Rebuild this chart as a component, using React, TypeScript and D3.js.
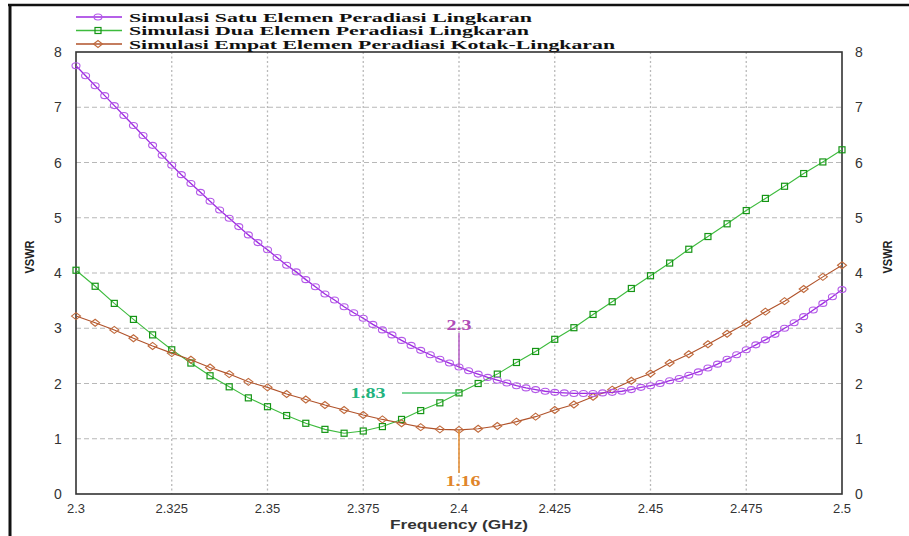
import React from 'react';
import * as d3 from 'd3';

const W = 909;
const H = 536;

const xTicks = [2.3, 2.325, 2.35, 2.375, 2.4, 2.425, 2.45, 2.475, 2.5];
const xTickLabels = ['2.3', '2.325', '2.35', '2.375', '2.4', '2.425', '2.45', '2.475', '2.5'];
const yTicks = [0, 1, 2, 3, 4, 5, 6, 7, 8];

const seriesNames = [
  'Simulasi Satu Elemen Peradiasi Lingkaran',
  'Simulasi Dua Elemen Peradiasi Lingkaran',
  'Simulasi Empat Elemen Peradiasi Kotak-Lingkaran',
];

// sweep grids (GHz)
const satuFreq = d3.range(81).map((i) => +(2.3 + i * 0.0025).toFixed(4));
const duaFreq = d3.range(41).map((i) => +(2.3 + i * 0.005).toFixed(3));
const empatFreq = duaFreq;

const satuVSWR = [
  7.75, 7.57, 7.39, 7.21, 7.03, 6.85, 6.67, 6.49, 6.31, 6.13, 5.95, 5.78, 5.62, 5.46, 5.3, 5.14, 4.99, 4.84, 4.69, 4.55, 4.42,
  4.28, 4.14, 4.02, 3.88, 3.75, 3.62, 3.51, 3.39, 3.28, 3.18, 3.07, 2.97, 2.88, 2.78, 2.69, 2.6, 2.52, 2.44, 2.37, 2.3,
  2.23, 2.17, 2.11, 2.06, 2.01, 1.96, 1.92, 1.89, 1.86, 1.84, 1.83, 1.82, 1.82, 1.82, 1.83, 1.84, 1.86, 1.89,
  1.93, 1.96, 2.0, 2.05, 2.09, 2.15, 2.21, 2.28, 2.35, 2.44, 2.52, 2.61, 2.7, 2.79, 2.89, 3.0, 3.1, 3.21, 3.33, 3.45, 3.57, 3.7,
];

const duaVSWR = [
  4.05, 3.76, 3.45, 3.16, 2.88, 2.61, 2.37, 2.14, 1.94, 1.74, 1.58,
  1.42, 1.28, 1.17, 1.1, 1.14, 1.22, 1.35, 1.51, 1.65,
  1.83, 2.0, 2.17, 2.38, 2.58, 2.8, 3.01, 3.25, 3.48, 3.72,
  3.95, 4.18, 4.43, 4.66, 4.89, 5.13, 5.35, 5.57, 5.8, 6.01, 6.23,
];

const empatVSWR = [
  3.22, 3.1, 2.97, 2.82, 2.68, 2.55, 2.43, 2.29, 2.17, 2.03, 1.93,
  1.81, 1.71, 1.61, 1.52, 1.43, 1.35, 1.28, 1.21, 1.17, 1.16,
  1.18, 1.23, 1.31, 1.4, 1.52, 1.62, 1.76, 1.89, 2.05,
  2.18, 2.37, 2.53, 2.71, 2.9, 3.09, 3.3, 3.49, 3.71, 3.93, 4.14,
];

const markerFreq = 2.4;
const satuMark = 2.3;
const duaMark = 1.83;
const empatMark = 1.16;

const PURPLE_LINE = '#9d2be0';
const PURPLE_MK = '#b45ae8';
const GREEN_LINE = '#3dbb3d';
const GREEN_MK = '#159515';
const BROWN_LINE = '#b0522a';
const BROWN_MK = '#c06a3c';

const serif = "'Liberation Serif', 'Times New Roman', serif";
const sans = "'Liberation Sans', Arial, sans-serif";

export default function App() {
  const x = d3.scaleLinear().domain([2.3, 2.5]).range([76, 842]);
  const y = d3.scaleLinear().domain([0, 8]).range([494, 52]);

  const line = d3
    .line<[number, number]>()
    .x((d) => x(d[0]))
    .y((d) => y(d[1]));

  const satu: [number, number][] = satuFreq.map((f, i) => [f, satuVSWR[i]]);
  const dua: [number, number][] = duaFreq.map((f, i) => [f, duaVSWR[i]]);
  const empat: [number, number][] = empatFreq.map((f, i) => [f, empatVSWR[i]]);

  const circle = (cx: number, cy: number, key: any, color = PURPLE_MK) => (
    <ellipse key={key} cx={cx} cy={cy} rx={4} ry={3} fill="none" stroke={color} strokeWidth={1.1} />
  );
  const square = (cx: number, cy: number, key: any) => (
    <rect key={key} x={cx - 3} y={cy - 3} width={6} height={6} fill="none" stroke={GREEN_MK} strokeWidth={1.2} />
  );
  const diamond = (cx: number, cy: number, key: any) => (
    <path
      key={key}
      d={`M${cx - 4.5},${cy} L${cx},${cy - 3.5} L${cx + 4.5},${cy} L${cx},${cy + 3.5} Z`}
      fill="none"
      stroke={BROWN_MK}
      strokeWidth={1.1}
    />
  );

  const legendRows = [
    { name: seriesNames[0], color: PURPLE_LINE, mk: 'c', y: 17, len: 403 },
    { name: seriesNames[1], color: GREEN_LINE, mk: 's', y: 30.5, len: 400 },
    { name: seriesNames[2], color: BROWN_LINE, mk: 'd', y: 44, len: 486 },
  ];

  const xm = x(markerFreq);

  return (
    <svg
      width={W}
      height={H}
      viewBox={`0 0 ${W} ${H}`}
      style={{ position: 'absolute', left: 0, top: 0, background: '#fff' }}
    >
      <rect x={0} y={0} width={W} height={H} fill="#fff" />
      {/* outer frame */}
      <line x1={8} x2={W} y1={5} y2={5} stroke="#111" strokeWidth={2.5} />
      <line x1={10} x2={10} y1={4} y2={H} stroke="#111" strokeWidth={3} />

      {/* grid */}
      {yTicks
        .filter((t) => t > 0 && t < 8)
        .map((t) => (
          <line key={'gy' + t} x1={x(2.3)} x2={x(2.5)} y1={y(t)} y2={y(t)} stroke="#b8b8b8" strokeWidth={1.2} strokeDasharray="5,3" />
        ))}
      {xTicks
        .filter((t) => t > 2.3 && t < 2.5)
        .map((t) => (
          <line key={'gx' + t} x1={x(t)} x2={x(t)} y1={y(8)} y2={y(0)} stroke="#b8b8b8" strokeWidth={1.3} strokeDasharray="2,2.5" />
        ))}

      {/* plot frame */}
      <rect x={x(2.3)} y={y(8)} width={x(2.5) - x(2.3)} height={y(0) - y(8)} fill="none" stroke="#333" strokeWidth={1.6} />

      {/* series */}
      <path d={line(dua) || ''} fill="none" stroke={GREEN_LINE} strokeWidth={1.1} />
      {dua.map((d, i) => square(x(d[0]), y(d[1]), 'g' + i))}
      <path d={line(empat) || ''} fill="none" stroke={BROWN_LINE} strokeWidth={1.1} />
      {empat.map((d, i) => diamond(x(d[0]), y(d[1]), 'b' + i))}
      <path d={line(satu) || ''} fill="none" stroke={PURPLE_LINE} strokeWidth={1.3} />
      {satu.map((d, i) => circle(x(d[0]), y(d[1]), 'p' + i))}

      {/* annotations */}
      <line x1={xm} x2={xm} y1={y(satuMark) - 34} y2={y(satuMark)} stroke="#b45cc4" strokeWidth={1.5} />
      <text x={xm} y={y(satuMark) - 37} fontFamily={serif} fontWeight="bold" fontSize={15} fill="#b04db8" textAnchor="middle" textLength={25} lengthAdjust="spacingAndGlyphs">
        2.3
      </text>
      <line x1={xm - 57} x2={xm} y1={y(duaMark)} y2={y(duaMark)} stroke="#55c878" strokeWidth={1.5} />
      <text x={xm - 91} y={y(duaMark) + 5} fontFamily={serif} fontWeight="bold" fontSize={15} fill="#22b37e" textAnchor="middle" textLength={35} lengthAdjust="spacingAndGlyphs">
        1.83
      </text>
      <line x1={xm} x2={xm} y1={y(empatMark)} y2={y(empatMark) + 43} stroke="#e38a2e" strokeWidth={1.5} />
      <text x={xm + 4} y={y(empatMark) + 56} fontFamily={serif} fontWeight="bold" fontSize={15} fill="#e0852a" textAnchor="middle" textLength={35} lengthAdjust="spacingAndGlyphs">
        1.16
      </text>

      {/* y axis labels */}
      {yTicks.map((t) => (
        <g key={'yl' + t}>
          <text x={58} y={y(t) + 5} fontFamily={sans} fontSize={14} fill="#333" textAnchor="middle">
            {t}
          </text>
          <text x={859} y={y(t) + 5} fontFamily={sans} fontSize={14} fill="#333" textAnchor="middle">
            {t}
          </text>
        </g>
      ))}
      {xTicks.map((t, i) => (
        <text key={'xl' + t} x={x(t)} y={513} fontFamily={sans} fontSize={13} fill="#333" textAnchor="middle">
          {xTickLabels[i]}
        </text>
      ))}
      <text x={459} y={529} fontFamily={sans} fontWeight="bold" fontSize={12} fill="#333" textAnchor="middle" textLength={138} lengthAdjust="spacingAndGlyphs">
        Frequency (GHz)
      </text>
      <text transform={`translate(34,257) rotate(-90)`} fontFamily={sans} fontWeight="bold" fontSize={13} fill="#222" textAnchor="middle" textLength={33} lengthAdjust="spacingAndGlyphs">
        VSWR
      </text>
      <text transform={`translate(892,257) rotate(-90)`} fontFamily={sans} fontWeight="bold" fontSize={13} fill="#222" textAnchor="middle" textLength={33} lengthAdjust="spacingAndGlyphs">
        VSWR
      </text>

      {/* legend */}
      {legendRows.map((r, i) => (
        <g key={'lg' + i}>
          <line x1={76} x2={122} y1={r.y} y2={r.y} stroke={r.color} strokeWidth={1.5} />
          {r.mk === 'c' && circle(98, r.y, 'lc', PURPLE_MK)}
          {r.mk === 's' && square(98, r.y, 'ls')}
          {r.mk === 'd' && diamond(98, r.y, 'ld')}
          <text x={129} y={r.y + 4.5} fontFamily={serif} fontWeight="bold" fontSize={13} fill="#111" textLength={r.len} lengthAdjust="spacingAndGlyphs">
            {r.name}
          </text>
        </g>
      ))}
    </svg>
  );
}
